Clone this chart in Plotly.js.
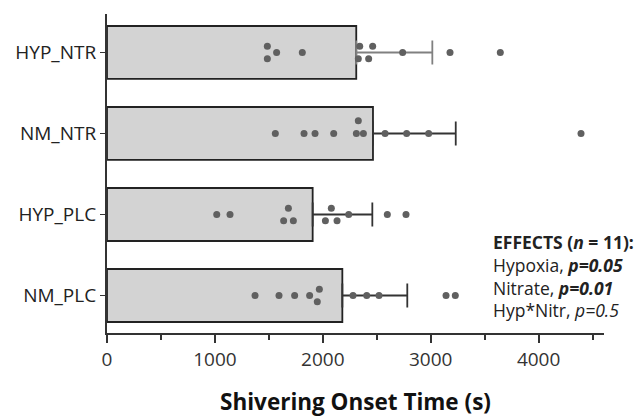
<!DOCTYPE html>
<html>
<head>
<meta charset="utf-8">
<script src="https://cdn.plot.ly/plotly-3.0.1.min.js"></script>
<style>html,body{margin:0;padding:0;background:#fff;}#chart{width:639px;height:417px;}</style>
</head>
<body>
<div id="chart"></div>
<script>
// Categories (bottom to top)
const categories = ["NM_PLC", "HYP_PLC", "NM_NTR", "HYP_NTR"];
// Bar means (s)
const means = [2181, 1906, 2465, 2310];
// Positive error (SD) (s)
const errors = [602, 553, 767, 705];
// Individual values (s)
const nmPlc = [1372, 1594, 1739, 1878, 1968, 1949, 2280, 2407, 2521, 3142, 3228];
const hypPlc = [1017, 1140, 1681, 1637, 1727, 2079, 2024, 2132, 2240, 2598, 2771];
const nmNtr = [1560, 1826, 1928, 2101, 2329, 2311, 2376, 2577, 2777, 2981, 4393];
const hypNtr = [1486, 1486, 1572, 1810, 2342, 2329, 2462, 2425, 2740, 3179, 3645];
const points = [nmPlc, hypPlc, nmNtr, hypNtr];
// Visual jitter (vertical offset in category units) for overlapping dots
const jitter = [
  [0, 0, 0, 0, 0.078, -0.078, 0, 0, 0, 0, 0],
  [0, 0, 0.078, -0.078, -0.078, 0.078, -0.078, -0.078, 0, 0, 0],
  [0, 0, 0, 0, 0.157, 0, 0, 0, 0, 0, 0],
  [0.078, -0.078, 0, 0, 0.078, -0.078, 0.078, -0.078, 0, 0, 0]
];
const errColors = ["#333333", "#333333", "#333333", "#808080"];

const traces = [];
categories.forEach((c, i) => {
  traces.push({
    type: "bar", orientation: "h",
    x: [means[i]], y: [i], width: 0.654,
    marker: {color: "#d3d3d3", line: {color: "#222222", width: 1.8}},
    error_x: {type: "data", array: [errors[i]], arrayminus: [0], symmetric: false,
              color: errColors[i], thickness: 1.8, width: 12},
    hoverinfo: "skip", showlegend: false
  });
});
points.forEach((vals, i) => {
  traces.push({
    type: "scatter", mode: "markers",
    x: vals, y: vals.map((v, k) => i + jitter[i][k]),
    marker: {color: "#606060", size: 7},
    hoverinfo: "skip", showlegend: false, cliponaxis: false
  });
});

const layout = {
  width: 639, height: 417,
  margin: {l: 107, r: 35, t: 14, b: 84},
  paper_bgcolor: "#fff", plot_bgcolor: "#fff",
  barmode: "overlay",
  font: {family: "Open Sans, sans-serif", color: "#222"},
  xaxis: {
    range: [0, 4606], tick0: 0, dtick: 1000,
    showgrid: false, zeroline: false,
    showline: true, linecolor: "#333", linewidth: 2,
    ticks: "outside", ticklen: 8, tickwidth: 2, tickcolor: "#333",
    tickfont: {size: 19, color: "#333"},
    minor: {dtick: 500, ticks: "outside", ticklen: 5, tickwidth: 2, tickcolor: "#333", showgrid: false},
    title: {text: "<b>Shivering Onset Time (s)</b>", font: {size: 22.5, color: "#111"}, standoff: 24}
  },
  yaxis: {
    range: [-0.463, 3.475],
    tickvals: [0, 1, 2, 3], ticktext: categories,
    showgrid: false, zeroline: false,
    showline: true, linecolor: "#333", linewidth: 2,
    ticks: "outside", ticklen: 5, tickwidth: 1.5, tickcolor: "#333",
    tickfont: {size: 19, color: "#222"}
  },
  annotations: [{
    xref: "paper", yref: "paper", x: 0.773, y: 0.33,
    xanchor: "left", yanchor: "top", align: "left", showarrow: false,
    font: {size: 17.5, color: "#222"},
    text: "<b>EFFECTS (<i>n</i> = 11):</b><br>Hypoxia, <b><i>p=0.05</i></b><br>Nitrate, <b><i>p=0.01</i></b><br>Hyp*Nitr, <i>p=0.5</i>"
  }]
};

Plotly.newPlot("chart", traces, layout, {staticPlot: true, displayModeBar: false});
</script>
</body>
</html>
